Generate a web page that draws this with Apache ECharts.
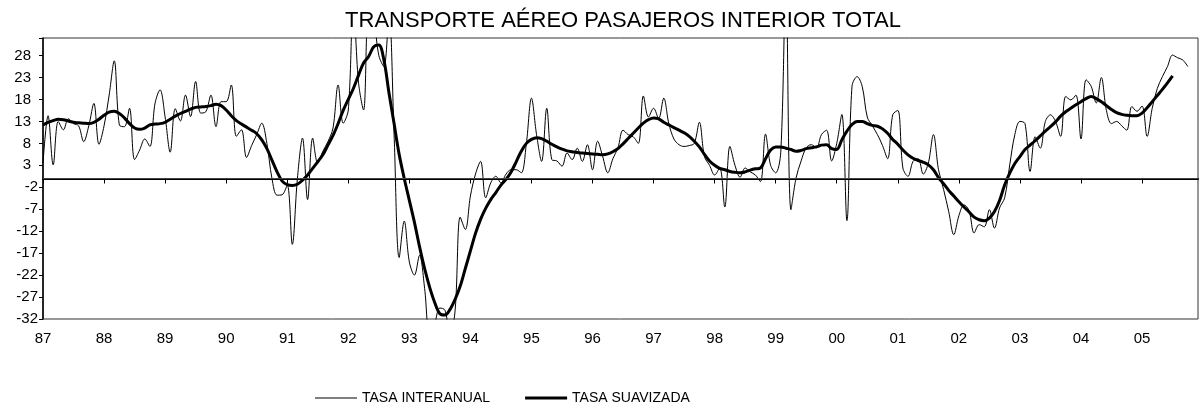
<!DOCTYPE html>
<html>
<head>
<meta charset="utf-8">
<script src="https://cdn.jsdelivr.net/npm/echarts@6/dist/echarts.min.js"></script>
<style>
  html, body { margin: 0; padding: 0; background: #fff; }
  #chart { width: 1200px; height: 412px; }
</style>
</head>
<body>
<div id="chart"></div>
<script>
// Year tick labels (one per January), monthly data from Jan 1987 to Dec 2005
const years = ['87','88','89','90','91','92','93','94','95','96','97','98','99','00','01','02','03','04','05'];

// Year-on-year rate, monthly
const tasaInteranual = [
  3.5, 14.3, 3.1, 13, 11.1, 13.6, 12.5, 12, 8.4, 12, 17.1, 7.8,
  12, 19, 26.8, 12.2, 11.8, 16, 4.3, 6.5, 9, 7.3, 17, 20.2,
  14, 6, 15.9, 13.1, 19, 14.1, 22.1, 14.9, 15.2, 19, 11.8, 17.5,
  17.5, 21.3, 9.6, 11.1, 4.8, 7.5, 10, 12.6, 8, 0, -3.8, -3.7,
  -1.5, -15, 0, 9.2, -4.8, 9.2, 3.5, 6.2, 8.4, 11.5, 21.3, 12.6,
  15.6, 40, 22, 15.6, 38, 36, 28, 25.5, 38, 10, -18, -9.7,
  -19, -22, -17.5, -25, -36, -33, -29.5, -30, -36, -30, -8.8, -11.6,
  -4, 1, 3.9, -4.4, -1, 0.5, -1, 1, 2, 2, 1.3, 8,
  18.3, 10, 3.9, 16, 4.3, 4, 2.8, 5.8, 4.3, 6.9, 3.9, 7.7,
  2, 8.5, 5, 1.3, 4.5, 7, 11, 10, 9.5, 8, 18.8, 14,
  16, 13.7, 18.3, 12.5, 9, 7.7, 7.3, 7.5, 8, 12.8, 5, 3,
  0.8, 2.4, -6.5, 7.3, 3, 0.3, 2.4, 1.5, 0.8, -0.7, 10.1, 3,
  1.3, 6, 45, -7.1, 0.1, 4, 7, 7.7, 7, 10, 11, 4,
  8, 14.6, -9.6, 21, 23.2, 21, 14, 12, 10, 7.5, 4.5, 14.5,
  15.5, 2.4, 0.5, 3.9, 4.5, 1, 3.5, 10, 2, -2.5, -7.5, -12.8,
  -8.5, -6, -7.3, -12.4, -10.5, -11, -7.1, -11.3, -6.7, -4.4, 3.1, 10,
  13, 12.5, 1.6, 9.5, 6.9, 13, 14.5, 13, 9.6, 18.7, 17.9, 19,
  9, 22.5, 21, 17.2, 23, 15.5, 12.5, 13, 12, 11, 16.4, 15.3,
  16.5, 9.6, 16, 20.5, 23.2, 25.5, 28.1, 27.5, 27, 25.5
];

// Smoothed rate, monthly
const tasaSuavizada = [
  12.2, 12.8, 13.2, 13.5, 13.4, 13.1, 12.8, 12.7, 12.6, 12.5, 12.8, 13.5,
  14.4, 15.1, 15.3, 14.8, 13.8, 12.5, 11.5, 11.2, 11.5, 12.2, 12.4, 12.5,
  12.8, 13.5, 14.2, 14.8, 15.3, 15.8, 16.2, 16.3, 16.4, 16.6, 16.9, 16.6,
  15.6, 14.3, 13.2, 12.4, 11.7, 11, 10.2, 8.8, 6.8, 4.2, 1.5, -0.6,
  -1.4, -1.6, -1.3, -0.4, 0.8, 2.3, 3.8, 5.4, 7.6, 9.8, 12.5, 15.5,
  18, 20.5, 23.5, 26.3, 27.8, 30, 30.4, 27, 19.5, 12.5, 5.5, 0,
  -5, -10, -15.5, -20.5, -24.8, -28.3, -30.8, -31.1, -29.8, -27.5, -24.5, -20.5,
  -16.5, -12.5, -9.3, -6.8, -4.8, -3.2, -1.5, -0.2, 1.5, 3.8, 6.2, 8,
  8.9, 9.3, 9.1, 8.5, 7.8, 7.2, 6.7, 6.3, 6.1, 5.9, 5.8, 5.7,
  5.6, 5.5, 5.4, 5.6, 6.1, 6.8, 7.9, 9.1, 10.3, 11.5, 12.6, 13.4,
  13.8, 13.6, 12.8, 12.2, 11.6, 11, 10.4, 9.6, 8.5, 7.2, 5.5, 4,
  3, 2.3, 2, 1.6, 1.4, 1.3, 1.5, 1.9, 2.2, 2.4, 4.5, 6.5,
  7.2, 7.2, 6.9, 6.6, 6.2, 6.4, 6.8, 7, 7.2, 7.6, 7.7, 6.8,
  6.6, 8.8, 10.8, 12.3, 13, 13, 12.5, 12.1, 11.9, 11.3, 10.3, 8.9,
  7.8, 6.5, 5.4, 4.6, 4.1, 3.7, 3.1, 2, 0.2, -1.2, -2.7, -4,
  -5.3, -6.5, -7.6, -8.8, -9.4, -9.6, -9, -7.5, -5, -1.5, 1.2, 3.4,
  5, 6.6, 7.6, 8.6, 9.7, 10.8, 11.8, 12.9, 14.2, 15.2, 16, 16.8,
  17.5, 18.2, 18.7, 18.2, 17.5, 16.6, 15.7, 15, 14.6, 14.4, 14.3, 14.3,
  14.9, 16.1, 17.5, 18.9, 20.3, 21.8, 23.4
];

// Month categories built from the year labels
const categories = [];
years.forEach(y => { for (let m = 1; m <= 12; m++) categories.push(y + '-' + String(m).padStart(2, '0')); });

const FONT = 'Liberation Sans, Arial, Helvetica, sans-serif';
const isJan = (idx) => idx % 12 === 0;

const chart = echarts.init(document.getElementById('chart'), null, { renderer: 'canvas' });
chart.setOption({
  animation: false,
  backgroundColor: '#ffffff',
  title: {
    text: 'TRANSPORTE AÉREO PASAJEROS INTERIOR TOTAL',
    left: 618,
    top: 5,
    textAlign: 'center',
    textStyle: { fontFamily: FONT, fontSize: 22, fontWeight: 'normal', color: '#000' }
  },
  legend: {
    left: 315,
    top: 391,
    padding: 0,
    itemWidth: 42,
    itemHeight: 12,
    itemGap: 35,
    textStyle: { fontFamily: FONT, fontSize: 14, color: '#000' },
    data: [
      { name: 'TASA INTERANUAL', icon: 'path://M0 0H100V2.5H0Z' },
      { name: 'TASA SUAVIZADA', icon: 'path://M0 0H100V7H0Z' }
    ]
  },
  grid: {
    left: 43, right: 2, top: 38, bottom: 93,
    show: true, borderColor: '#333', borderWidth: 1, backgroundColor: 'transparent'
  },
  xAxis: {
    type: 'category',
    data: categories,
    boundaryGap: false,
    axisLine: { lineStyle: { color: '#000', width: 2 } },
    axisTick: { interval: isJan, length: 5, lineStyle: { color: '#000', width: 1 } },
    axisLabel: {
      interval: isJan,
      margin: 12,
      fontFamily: FONT, fontSize: 15, color: '#000',
      formatter: (v) => v.split('-')[0]
    },
    splitLine: { show: false }
  },
  yAxis: {
    type: 'value',
    min: -32, max: 32, interval: 5,
    axisLine: { show: true, lineStyle: { color: '#000', width: 1.5 } },
    axisTick: { show: true, length: 4, lineStyle: { color: '#000' } },
    axisLabel: {
      margin: 5,
      fontFamily: FONT, fontSize: 15, color: '#000',
      // positive values keep room on the right, as in an accounting number format
      formatter: (v) => (v > 30 ? '' : (v >= 0 ? '{pos|' + v + '}' : String(v))),
      rich: { pos: { fontFamily: FONT, fontSize: 15, color: '#000', padding: [0, 7, 0, 0] } }
    },
    splitLine: { show: false }
  },
  series: [
    {
      name: 'TASA INTERANUAL',
      type: 'line',
      data: tasaInteranual,
      smooth: 0.35,
      symbol: 'none',
      clip: true,
      lineStyle: { color: '#000', width: 1 },
      itemStyle: { color: '#000' },
      markLine: {
        silent: true,
        symbol: 'none',
        label: { show: false },
        lineStyle: { color: '#444', width: 1, type: 'solid' },
        data: [{ yAxis: 0 }]
      },
      z: 2
    },
    {
      name: 'TASA SUAVIZADA',
      type: 'line',
      data: tasaSuavizada,
      smooth: 0.35,
      symbol: 'none',
      clip: true,
      lineStyle: { color: '#000', width: 3 },
      itemStyle: { color: '#000' },
      z: 3
    }
  ]
});
</script>
</body>
</html>
